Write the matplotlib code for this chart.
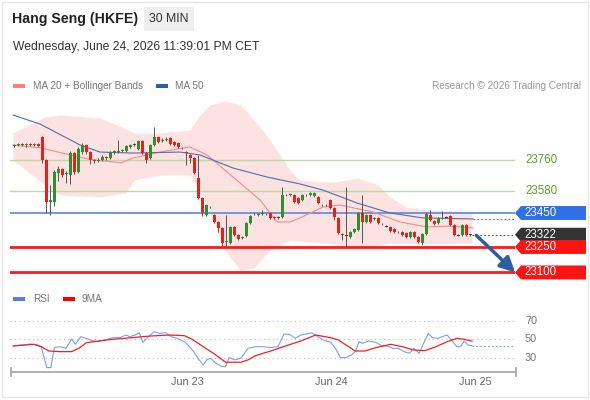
import matplotlib.pyplot as plt
import matplotlib.transforms as mtransforms
from matplotlib.patches import Polygon, Rectangle

plt.rcParams['font.family'] = ['Liberation Sans', 'DejaVu Sans']

# 30 min candles, index 0 = first bar on screen
opens = [23845, 23851, 23856, 23851, 23856, 23851, 23856, 23898, 23762, 23515,
         23515, 23686, 23709, 23680, 23674, 23803, 23691, 23809, 23851, 23809,
         23762, 23756, 23762, 23780, 23774, 23809, 23812, 23815, 23815, 23839,
         23851, 23827, 23874, 23803, 23774, 23851, 23898, 23874, 23880, 23892,
         23868, 23862, 23833, 23809, 23792, 23774, 23656, 23538, 23438, 23485,
         23438, 23397, 23362, 23279, 23273, 23368, 23320, 23303, 23315, 23391,
         23444, 23438, 23444, 23444, 23450, 23426, 23426, 23426, 23556, 23556,
         23556, 23538, 23527, 23556, 23556, 23550, 23544, 23497, 23497, 23527,
         23479, 23421, 23326, 23320, 23309, 23338, 23350, 23450, 23397, 23438,
         23415, 23421, 23385, 23373, 23368, 23356, 23338, 23338, 23332, 23309,
         23338, 23309, 23273, 23326, 23438, 23403, 23391, 23421, 23426, 23432,
         23379, 23320, 23320, 23379, 23322]
closes = [23851, 23856, 23851, 23856, 23851, 23856, 23845, 23762, 23515, 23527,
          23691, 23709, 23674, 23686, 23803, 23691, 23827, 23851, 23809, 23762,
          23756, 23762, 23780, 23774, 23809, 23815, 23815, 23821, 23845, 23851,
          23851, 23874, 23803, 23762, 23851, 23898, 23868, 23880, 23886, 23856,
          23851, 23839, 23833, 23803, 23774, 23686, 23538, 23450, 23497, 23485,
          23397, 23362, 23273, 23285, 23368, 23320, 23297, 23309, 23391, 23432,
          23444, 23444, 23450, 23444, 23421, 23421, 23426, 23556, 23556, 23562,
          23515, 23509, 23556, 23556, 23568, 23568, 23509, 23497, 23497, 23479,
          23426, 23332, 23320, 23320, 23338, 23356, 23450, 23397, 23438, 23397,
          23421, 23391, 23385, 23373, 23344, 23338, 23338, 23320, 23309, 23338,
          23309, 23279, 23326, 23444, 23409, 23385, 23421, 23421, 23426, 23379,
          23320, 23320, 23379, 23320, 23322]
highs = [23857, 23862, 23862, 23862, 23860, 23862, 23862, 23904, 23770, 23615,
         23703, 23727, 23715, 23700, 23815, 23810, 23840, 23862, 23857, 23815,
         23770, 23772, 23790, 23786, 23815, 23822, 23880, 23828, 23851, 23857,
         23860, 23880, 23880, 23809, 23857, 23957, 23904, 23890, 23895, 23898,
         23874, 23868, 23840, 23815, 23798, 23780, 23792, 23545, 23503, 23492,
         23445, 23403, 23368, 23438, 23374, 23374, 23326, 23315, 23397, 23438,
         23450, 23450, 23468, 23450, 23456, 23432, 23432, 23603, 23562, 23568,
         23562, 23544, 23562, 23562, 23574, 23574, 23550, 23503, 23503, 23533,
         23485, 23426, 23332, 23603, 23344, 23362, 23456, 23556, 23444, 23444,
         23426, 23426, 23391, 23379, 23373, 23362, 23344, 23344, 23338, 23344,
         23344, 23315, 23332, 23456, 23468, 23409, 23426, 23462, 23432, 23438,
         23385, 23326, 23385, 23385, 23328]
lows = [23839, 23845, 23845, 23839, 23845, 23845, 23839, 23745, 23450, 23438,
        23491, 23638, 23665, 23627, 23621, 23680, 23685, 23800, 23800, 23740,
        23745, 23750, 23755, 23765, 23768, 23800, 23805, 23808, 23809, 23833,
        23845, 23820, 23795, 23745, 23768, 23845, 23862, 23868, 23874, 23850,
        23845, 23833, 23827, 23733, 23745, 23680, 23530, 23432, 23430, 23478,
        23390, 23338, 23256, 23256, 23265, 23315, 23290, 23297, 23309, 23385,
        23438, 23432, 23438, 23438, 23415, 23415, 23415, 23420, 23550, 23550,
        23509, 23503, 23520, 23550, 23550, 23544, 23503, 23491, 23491, 23473,
        23409, 23326, 23291, 23250, 23303, 23332, 23344, 23273, 23391, 23391,
        23409, 23385, 23379, 23368, 23338, 23332, 23332, 23315, 23303, 23303,
        23303, 23273, 23262, 23320, 23403, 23379, 23385, 23415, 23420, 23373,
        23315, 23315, 23315, 23315, 23316]

# moving averages / bands
ma50_x = [-0.25, 6.5, 16.5, 21.5, 29.75, 41.5, 46.5, 54.75, 63.25, 71.5, 77.25, 85.75, 94, 102.25, 114.75]
ma50_y = [24027, 23974, 23851, 23809, 23803, 23809, 23792, 23715, 23662, 23621, 23585, 23509, 23450, 23421, 23415]
ma20_x = [-0.25, 6.75, 11, 18.5, 26.75, 29.75, 36.5, 44, 48.25, 54.75, 61.5, 65.75, 69, 71.5, 77.25, 81.5, 89.75, 96.5, 103.25, 109, 114.75]
ma20_y = [23851, 23833, 23809, 23768, 23745, 23774, 23809, 23839, 23792, 23662, 23527, 23397, 23397, 23421, 23485, 23497, 23456, 23397, 23368, 23373, 23362]
bb_x = [-0.25, 7.75, 11.5, 21.5, 28, 30, 36.5, 44, 46.5, 49, 52.75, 56.5, 60, 64, 69, 71.5, 77.25, 80, 86, 91, 94, 98, 104, 114.5]
bb_up = [23921, 24015, 24027, 24010, 23945, 23921, 23921, 23939, 24027, 24086, 24109, 24090, 24000, 23880,
         23703, 23644, 23633, 23633, 23656, 23615, 23544, 23485, 23468, 23456]
bb_lo = [23762, 23615, 23556, 23544, 23568, 23644, 23674, 23674, 23580, 23450, 23230, 23114, 23126, 23232,
         23291, 23285, 23273, 23268, 23250, 23262, 23273, 23270, 23268, 23273]

levels_green = [23760, 23580]
level_pivot = 23450
last_price = 23322
levels_red = [23250, 23100]

rsi_x = [-0.2, 2.1, 4, 5.9, 6.8, 8.2, 9.2, 10.1, 11.5, 13, 14.4, 15.3, 16.7, 17.6, 19.1, 20.9, 22.8, 24.7,
         26.6, 28, 28.9, 30.3, 31.3, 32.2, 33.6, 35, 36.4, 37.9, 39.3, 40.7, 42.6, 43.5, 44.9, 46.3, 47.3,
         48.2, 49.1, 50.5, 52, 52.9, 53.8, 55.2, 56.7, 58.5, 60.4, 62.3, 64.2, 66, 67.5, 68.9, 70.3, 71.7,
         73.1, 74.5, 75.9, 77.3, 79.2, 80.6, 81.6, 83, 84.4, 85.3, 86.3, 87.2, 88.6, 90.5, 91.9, 93.3, 94.7,
         96.1, 97.5, 98.9, 99.9, 101.3, 102.2, 103.6, 104.6, 106, 107, 108.3, 109.3, 110.7, 111.6, 112.6,
         113.5, 114.5]
rsi_v = [42.8, 43.8, 44.9, 43.8, 42, 19.2, 19.2, 41, 42, 40.2, 50.4, 44.6, 52.9, 51.8, 49.3, 47.5, 49.3, 51.8,
         52.2, 54.7, 52.9, 54.7, 57.2, 46.7, 52.9, 58.3, 56.5, 57.2, 52.9, 51.1, 47.5, 43.8, 36.6, 27.6, 22.1,
         27.6, 29.4, 23.9, 20.3, 20.3, 30.1, 27.6, 29.4, 40.2, 42, 42, 41, 42, 55.8, 55.4, 51.1, 54.7,
         55.8, 57.2, 52.9, 49.3, 46.7, 38.4, 30.1, 30.1, 33, 36.6, 47.5, 45.7, 48.2, 46.7, 42.8, 42.8, 40.2,
         40.2, 36.6, 34.8, 40.2, 34.8, 43.8, 56.5, 51.8, 51.1, 52.9, 54.7, 49.3, 42, 42, 48.2,
         43.8, 43.1]
ma9_x = [-0.2, 5, 6.8, 8.7, 11.5, 14.4, 16.2, 18.1, 21.9, 24.7, 29.4, 34.1, 38.8, 42.6, 44.4, 47.3, 50.1,
         52.9, 56.7, 58.5, 60.4, 64.2, 67.9, 71.7, 75.4, 79.2, 81.1, 83, 85.3, 87.7, 90.5, 94.2, 97.1, 99.9,
         102.7, 105.5, 108.3, 110.7, 112.6, 114.5]
ma9_v = [42.8, 44.6, 42, 37.3, 36.6, 36.6, 40.2, 46.4, 48.6, 50, 51.8, 53.6, 54.7, 54, 50.4, 42, 34.1,
         25, 25, 27.6, 32.3, 37.3, 42.8, 48.2, 54.7, 51.8, 49.3, 43.8, 37.3, 37.3, 41, 44.6, 42, 38.4,
         37.7, 42, 47.5, 51.1, 50, 48.2]
rsi_levels = [70, 50, 30]

day_labels = ['Jun 23', 'Jun 24', 'Jun 25']
day_pos = [43.25, 79.25, 115.25]

W, H = 590, 400
fig = plt.figure(figsize=(5.9, 4.0), dpi=100)


def px_axes(x0, y0, x1, y1):
    return fig.add_axes([x0 / W, 1 - y1 / H, (x1 - x0) / W, (y1 - y0) / H])


ax = px_axes(10, 95, 515, 285)
ax.set_xlim(-1, 125.25)
ax.set_ylim(23026, 24145)
ax.axis('off')

rax = px_axes(10, 312, 515, 372)
rax.set_xlim(-1, 125.25)
rax.set_ylim(14.4, 79.8)
rax.axis('off')

ov = fig.add_axes([0, 0, 1, 1], zorder=5)
ov.set_xlim(0, W)
ov.set_ylim(H, 0)
ov.axis('off')
ov.patch.set_alpha(0)

# --- main chart ---
ax.fill_between(bb_x, bb_lo, bb_up, color='#fde2e2', lw=0, zorder=0)
for lv in levels_green:
    ax.axhline(lv, color='#b9dba3', lw=1, zorder=1)
ax.axhline(level_pivot, color='#5b86dd', lw=1.2, zorder=1)
for lv in levels_red:
    ax.axhline(lv, color='#ff1a1a', lw=2, zorder=1)
ax.plot(ma20_x, ma20_y, color='#f28c8c', lw=0.8, zorder=2)
ax.plot(ma50_x, ma50_y, color='#4b6fb3', lw=0.8, zorder=2)

idx = list(range(len(closes)))
ax.vlines(idx, lows, highs, color='#555555', lw=0.7, zorder=3)
for i in idx:
    o, c = opens[i], closes[i]
    if c > o:
        col = '#2e8f2e'
    elif c < o:
        col = '#e3221c'
    else:
        col = '#444444'
    hgt = max(abs(c - o), 5)
    ax.bar(i, hgt, bottom=min(o, c) - (hgt - abs(c - o)) / 2, width=0.75, color=col, lw=0, zorder=4)

last_i = len(closes) - 1
ax.plot([last_i + 0.5, 125.25], [last_price, last_price], color='#555555', lw=0.8, ls=(0, (1.5, 2)), zorder=2)
ax.plot([ma50_x[-1], 125.25], [ma50_y[-1], ma50_y[-1]], color='#4b6fb3', lw=0.8, ls=(0, (1.5, 2)), zorder=2)

ax.annotate('', xy=(125.3, 23100), xytext=(115.6, 23318),
            arrowprops=dict(arrowstyle='-|>,head_width=0.45,head_length=0.9', color='#2d5f9e', lw=2.5,
                            shrinkA=0, shrinkB=0),
            annotation_clip=False, zorder=6)

# price labels on the right
bt = mtransforms.blended_transform_factory(ov.transData, ax.transData)
for lv in levels_green:
    ov.text(525, lv, str(lv), transform=bt, color='#5aa02c', fontsize=8.3, va='center', ha='left')


def tag(price, color):
    h = 41
    pts = [(515, price), (521, price + h), (586, price + h), (586, price - h), (521, price - h)]
    ov.add_patch(Polygon(pts, closed=True, transform=bt, color=color, lw=0))
    ov.text(524, price, str(price), transform=bt, color='white', fontsize=8.3, va='center', ha='left')


tag(level_pivot, '#2f6fe8')
tag(last_price, '#333333')
tag(levels_red[0], '#ff1212')
tag(levels_red[1], '#ff1212')

# --- RSI panel ---
for lv in rsi_levels:
    rax.axhline(lv, color='#bbbbbb', lw=0.8, ls=(0, (1, 3)))
rax.plot(rsi_x, rsi_v, color='#7b9ef0', lw=0.8)
rax.plot([rsi_x[-1], 125.25], [rsi_v[-1], rsi_v[-1]], color='#7b9ef0', lw=0.8, ls=(0, (1.5, 2)))
rax.plot(ma9_x, ma9_v, color='#f02020', lw=0.9)
rt = mtransforms.blended_transform_factory(ov.transData, rax.transData)
for lv in rsi_levels:
    ov.text(525, lv, str(lv), transform=rt, color='#777777', fontsize=7.8, va='center', ha='left')

ov.plot([11, 516], [372, 372], color='#aaaaaa', lw=1.3)
ov.plot([11, 11], [368, 376], color='#aaaaaa', lw=1.3)
ov.plot([516, 516], [368, 376], color='#aaaaaa', lw=1.3)
dt = mtransforms.blended_transform_factory(rax.transData, ov.transData)
for lab, pos in zip(day_labels, day_pos):
    ov.text(pos, 382, lab, transform=dt, color='#666666', fontsize=7.8, ha='center', va='center')

# --- header and legends ---
ov.add_patch(Rectangle((2, 2), 586, 395, fill=False, ec='#e6e6e6', lw=1))
ov.text(12, 19, 'Hang Seng (HKFE)', fontsize=10.2, fontweight='bold', color='#222222', va='center')
ov.add_patch(Rectangle((144, 7), 50, 24, color='#eeeeee', lw=0))
ov.text(169, 19, '30 MIN', fontsize=8.8, color='#333333', va='center', ha='center')
ov.text(13, 47, 'Wednesday, June 24, 2026 11:39:01 PM CET', fontsize=8.7, color='#333333', va='center')

ov.add_patch(Rectangle((13, 84), 12, 4, color='#ff7f7f', lw=0))
ov.text(33, 86, 'MA 20 + Bollinger Bands', fontsize=7.2, color='#777777', va='center')
ov.add_patch(Rectangle((156, 84), 12, 4, color='#2e5fa5', lw=0))
ov.text(175, 86, 'MA 50', fontsize=7.2, color='#777777', va='center')
ov.text(581, 86, 'Research \u00a9 2026 Trading Central', fontsize=7.2, color='#999999', va='center', ha='right')

ov.add_patch(Rectangle((13, 297), 12, 4, color='#5b7fe0', lw=0))
ov.text(33, 299, 'RSI', fontsize=7.2, color='#777777', va='center')
ov.add_patch(Rectangle((63, 297), 12, 4, color='#ff0000', lw=0))
ov.text(82, 299, '9MA', fontsize=7.2, color='#777777', va='center')

fig.savefig('out.png', dpi=100, facecolor='white')
